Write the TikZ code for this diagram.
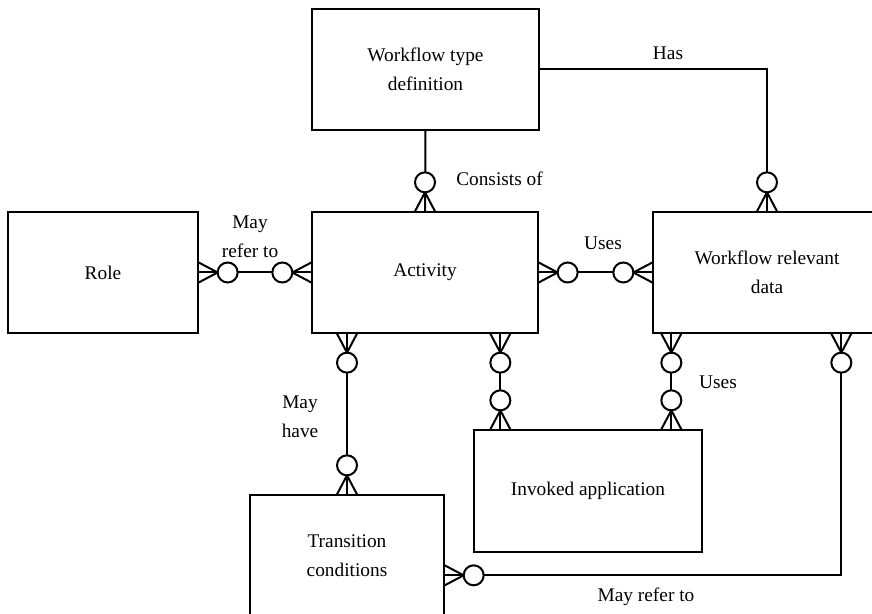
\documentclass[tikz,border=0pt]{standalone}
\usepackage{fontspec}
\setmainfont{Liberation Serif}
\usepackage{tikz}
\usetikzlibrary{calc,positioning}
\tikzset{
	entity/.style={draw, line width=1pt, inner sep=0pt, align=center, font=\fontsize{14.5}{21.75}\selectfont},
	conn/.style={line width=1.5pt},
	lbl/.style={align=center, inner sep=0pt, font=\fontsize{14.5}{21.75}\selectfont}
}
\def\crowend(#1)(#2){%
	\draw[conn] ($(#1)+({#2+90}:10)$) -- ($(#1)+(#2:19)$) -- ($(#1)+({#2-90}:10)$);
	\draw[conn, fill=white] ($(#1)+(#2:29)$) circle (10);
}

\begin{document}
\begin{tikzpicture}[x=0.75pt, y=0.75pt]
			%%%%% START %%%%%
			\useasboundingbox (0, 0) rectangle (872, 614);
			
			\node[entity, minimum width={227*0.75pt}, minimum height={121*0.75pt}] (wtd) at (425.5, 544.5) {Workflow type\\definition};
			\node[entity, minimum width={226*0.75pt}, minimum height={121*0.75pt}] (act) at (425, 341.5) {Activity};
			\node[entity, minimum width={190*0.75pt}, minimum height={121*0.75pt}] (role) at (103, 341.5) {Role};
			\node[entity, minimum width={228*0.75pt}, minimum height={121*0.75pt}] (wrd) at (767, 341.5) {Workflow relevant\\data};
			\node[entity, minimum width={228*0.75pt}, minimum height={122*0.75pt}] (inv) at (588, 123) {Invoked application};
			\node[entity, minimum width={194*0.75pt}, minimum height={121*0.75pt}] (trc) at (347, 58.5) {Transition\\conditions};
			
			\coordinate (ab1) at (act.south -| trc.north);
			\coordinate (ab2) at ($(act.south west)+(189, 0)$);
			\coordinate (it1) at (ab2 |- inv.north);
			\coordinate (wb1) at ($(wrd.south west)+(19, 0)$);
			\coordinate (it2) at (wb1 |- inv.north);
			\coordinate (wb2) at ($(wrd.south west)+(189, 0)$);
			\coordinate (te) at ($(trc.north east)+(0, -81)$);
			
			\draw[conn] (wtd.south) -- (act.north);
			\draw[conn] (wtd.east) -| (wrd.north);
			\draw[conn] (role.east) -- (act.west);
			\draw[conn] (act.east) -- (wrd.west);
			\draw[conn] (ab1) -- (trc.north);
			\draw[conn] (ab2) -- (it1);
			\draw[conn] (wb1) -- (it2);
			\draw[conn] (wb2) |- (te);
			
			\crowend(act.north)(90)
			\crowend(wrd.north)(90)
			\crowend(role.east)(0)
			\crowend(act.west)(180)
			\crowend(act.east)(0)
			\crowend(wrd.west)(180)
			\crowend(ab1)(-90)
			\crowend(trc.north)(90)
			\crowend(ab2)(-90)
			\crowend(it1)(90)
			\crowend(wb1)(-90)
			\crowend(it2)(90)
			\crowend(wb2)(-90)
			\crowend(te)(0)
			
			\node[lbl, anchor=west] (lcons) at (456, 435) {Consists of};
			\node[lbl] (lhas) at (668, 561) {Has};
			\node[lbl] (lrefer) at (250, 377.5) {May\\refer to};
			\node[lbl] (luses) at (603, 371) {Uses};
			\node[lbl] (lhave) at (300, 197.5) {May\\have};
			\node[lbl] (luses2) at (718, 232) {Uses};
			\node[lbl] (lrefer2) at (646, 17) {May refer to};
			%%%%% END %%%%%
\end{tikzpicture}
\end{document}
